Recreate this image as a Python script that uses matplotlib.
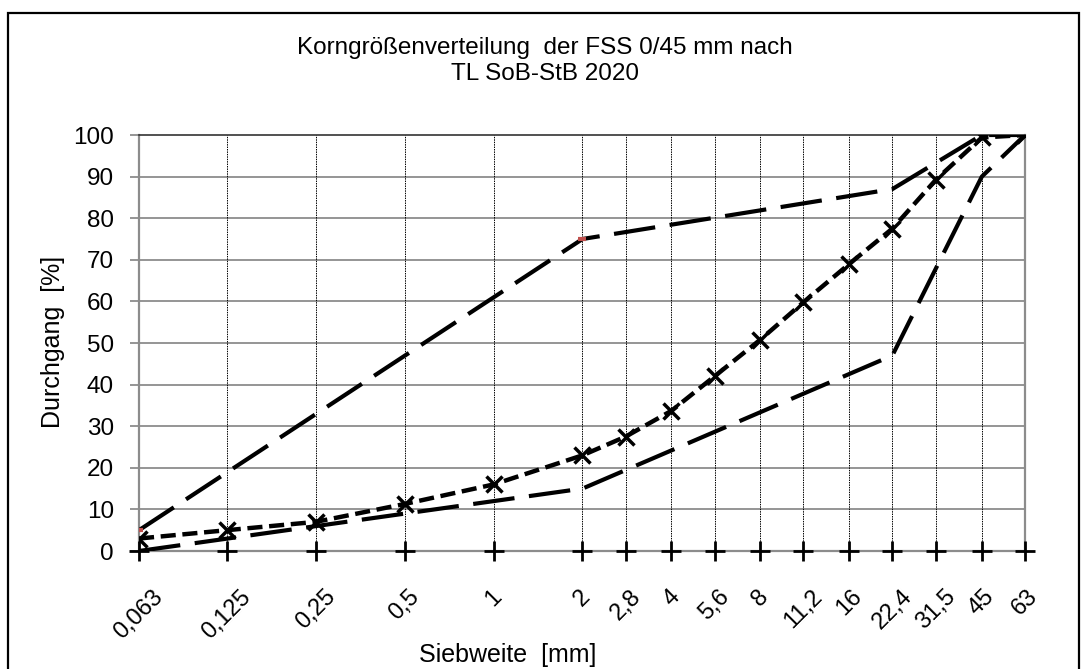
import matplotlib
matplotlib.use("Agg")
import matplotlib.pyplot as plt
from matplotlib.patches import Rectangle

plt.rcParams['font.family'] = ['Liberation Sans', 'DejaVu Sans']

# Siebweiten [mm] und Durchgänge [%]
siebe = [0.063, 0.125, 0.25, 0.5, 1, 2, 2.8, 4, 5.6, 8, 11.2, 16, 22.4, 31.5, 45, 63]
sieb_labels = ["0,063", "0,125", "0,25", "0,5", "1", "2", "2,8", "4", "5,6", "8",
               "11,2", "16", "22,4", "31,5", "45", "63"]

# Sieblinie der FSS 0/45
durchgang = [3, 5, 7, 11.3, 16, 23, 27.5, 33.7, 42, 50.8, 59.8, 69, 77.5, 89.3, 99.4, 100]

# Grenzsieblinien nach TL SoB-StB 2020
ober_x = [0.063, 2, 22.4, 45, 63]
ober_y = [5, 75, 87, 100, 100]
unter_x = [0.063, 2, 22.4, 45, 63]
unter_y = [0, 15, 47, 90, 100]

W, H = 1083, 669
fig = plt.figure(figsize=(W / 100, H / 100), dpi=100)
ax = fig.add_axes([139 / W, (H - 551) / H, (1025 - 139) / W, (551 - 135) / H])

# Rahmen um das Diagramm
fig.patches.append(Rectangle((8 / W, -0.05), (1079 - 8) / W, (H - 13) / H + 0.05,
                             transform=fig.transFigure, fill=False,
                             edgecolor='black', linewidth=1.6))

ax.set_xscale('log')
ax.set_xlim(0.063, 63)
ax.set_ylim(0, 100)

# Gitter
ax.set_yticks(range(0, 101, 10))
for y in range(10, 100, 10):
    ax.axhline(y, color='#8c8c8c', linewidth=1.3, zorder=1)
for x in siebe:
    ax.axvline(x, color='black', linewidth=0.7, linestyle=(0, (1.5, 1)), zorder=1)

# Grenzlinien
ax.plot(ober_x, ober_y, color='black', linewidth=3, dashes=(10, 3.5),
        marker='_', markersize=6, markeredgewidth=3, markeredgecolor='#c0504d',
        markevery=[0, 1], zorder=3)
ax.plot(unter_x, unter_y, color='black', linewidth=3, dashes=(10, 3.5), zorder=3)

# Sieblinie
ax.plot(siebe, durchgang, color='black', linewidth=3.2, dashes=(3.4, 1.5),
        marker='x', markersize=12, markeredgewidth=2.5, zorder=4)

# Kreuze auf der x-Achse
ax.plot(siebe, [0] * len(siebe), linestyle='none', marker='+', color='black',
        markersize=15, markeredgewidth=2, clip_on=False, zorder=5)

ax.set_xticks(siebe)
ax.set_xticklabels(sieb_labels, rotation=45, ha='center', va='top')
ax.xaxis.set_minor_locator(matplotlib.ticker.NullLocator())
ax.tick_params(axis='x', length=0, pad=25, labelsize=17)
ax.tick_params(axis='y', length=6.5, width=1.3, color='#8c8c8c', labelsize=17.5, pad=11.5)

for side in ['left', 'right', 'bottom']:
    ax.spines[side].set_color('#8c8c8c')
    ax.spines[side].set_linewidth(1.6)
ax.spines['top'].set_color('#333333')
ax.spines['top'].set_linewidth(1.2)

fig.text(545 / W, 1 - 54 / H, "Korngrößenverteilung  der FSS 0/45 mm nach",
         ha='center', va='baseline', fontsize=17.5)
fig.text(545 / W, 1 - 80 / H, "TL SoB-StB 2020", ha='center', va='baseline', fontsize=17.5)
fig.text(53 / W, (H - 342) / H, "Durchgang  [%]", rotation=90, ha='center',
         va='center', fontsize=18)
fig.text(508 / W, 7 / H, "Siebweite  [mm]", ha='center', va='baseline', fontsize=18)

fig.savefig("out.png", dpi=100)
